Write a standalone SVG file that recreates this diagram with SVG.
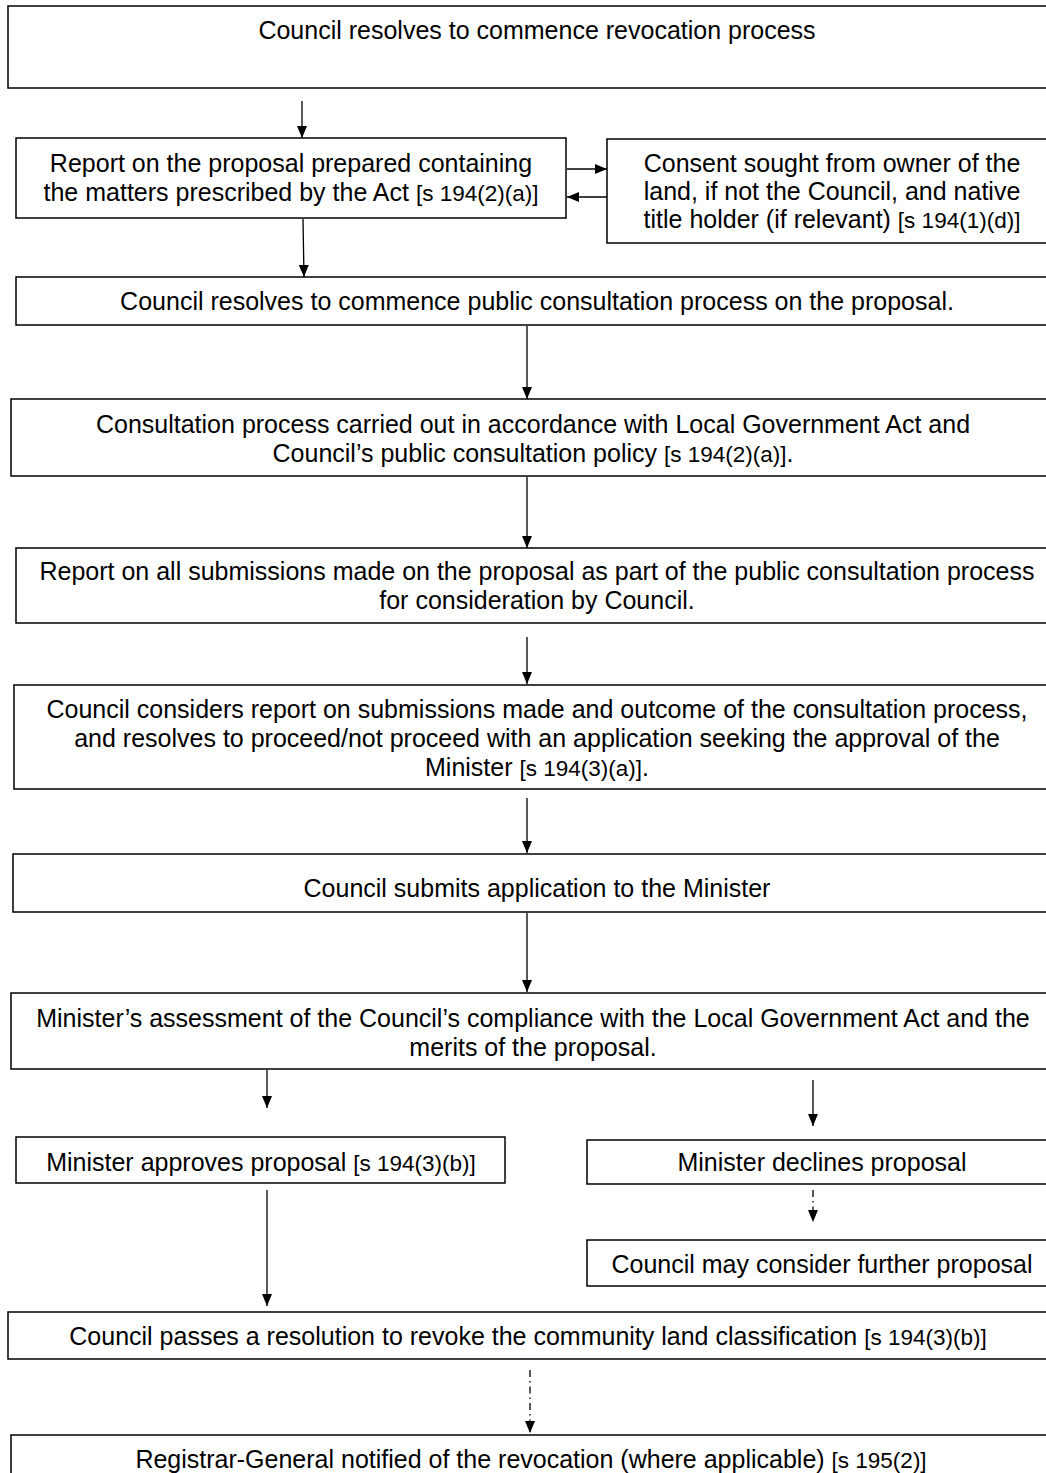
<svg xmlns="http://www.w3.org/2000/svg" width="1046" height="1473" viewBox="0 0 1046 1473">
<style>
.box{fill:#fff;stroke:#000;stroke-width:1.5}
.t{font-family:"Liberation Sans",Arial,sans-serif;font-size:25px;fill:#000;text-anchor:middle}
.s{font-size:22.5px}
.c{stroke:#000;stroke-width:1.3;fill:none}
.d{stroke-dasharray:7,4,1.5,4}
</style>
<defs>
<marker id="ah" viewBox="0 0 12 10" refX="12" refY="5" markerWidth="12" markerHeight="10" markerUnits="userSpaceOnUse" orient="auto">
<path d="M0,0 L12,5 L0,10 Z" fill="#000"/>
</marker>
</defs>
<rect width="1046" height="1473" fill="#fff"/>
<g id="n1"><rect class="box" x="8" y="6" width="1050" height="82"/>
<text class="t" x="537" y="39">Council resolves to commence revocation process</text></g>
<g id="n2"><rect class="box" x="16" y="138" width="550" height="80"/>
<text class="t" x="291" y="172">Report on the proposal prepared containing</text>
<text class="t" x="291" y="201">the matters prescribed by the Act <tspan class="s">[s 194(2)(a)]</tspan></text></g>
<g id="n3"><rect class="box" x="607" y="139" width="450" height="104"/>
<text class="t" x="832" y="172">Consent sought from owner of the</text>
<text class="t" x="832" y="200">land, if not the Council, and native</text>
<text class="t" x="832" y="228">title holder (if relevant) <tspan class="s">[s 194(1)(d)]</tspan></text></g>
<g id="n4"><rect class="box" x="16" y="277" width="1040" height="48"/>
<text class="t" x="537" y="310">Council resolves to commence public consultation process on the proposal.</text></g>
<g id="n5"><rect class="box" x="11" y="399" width="1045" height="77"/>
<text class="t" x="533" y="433">Consultation process carried out in accordance with Local Government Act and</text>
<text class="t" x="533" y="462">Council’s public consultation policy <tspan class="s">[s 194(2)(a)]</tspan>.</text></g>
<g id="n6"><rect class="box" x="16" y="548" width="1040" height="75"/>
<text class="t" x="537" y="580">Report on all submissions made on the proposal as part of the public consultation process</text>
<text class="t" x="537" y="609">for consideration by Council.</text></g>
<g id="n7"><rect class="box" x="14" y="685" width="1042" height="104"/>
<text class="t" x="537" y="718">Council considers report on submissions made and outcome of the consultation process,</text>
<text class="t" x="537" y="747">and resolves to proceed/not proceed with an application seeking the approval of the</text>
<text class="t" x="537" y="776">Minister <tspan class="s">[s 194(3)(a)]</tspan>.</text></g>
<g id="n8"><rect class="box" x="13" y="854" width="1043" height="58"/>
<text class="t" x="537" y="897">Council submits application to the Minister</text></g>
<g id="n9"><rect class="box" x="11" y="993" width="1045" height="76"/>
<text class="t" x="533" y="1027">Minister’s assessment of the Council’s compliance with the Local Government Act and the</text>
<text class="t" x="533" y="1056">merits of the proposal.</text></g>
<g id="n10"><rect class="box" x="16" y="1137" width="489" height="46"/>
<text class="t" x="261" y="1171">Minister approves proposal <tspan class="s">[s 194(3)(b)]</tspan></text></g>
<g id="n11"><rect class="box" x="587" y="1140" width="470" height="44"/>
<text class="t" x="822" y="1171">Minister declines proposal</text></g>
<g id="n12"><rect class="box" x="587" y="1240" width="470" height="46"/>
<text class="t" x="822" y="1273">Council may consider further proposal</text></g>
<g id="n13"><rect class="box" x="8" y="1312" width="1050" height="47"/>
<text class="t" x="528" y="1345">Council passes a resolution to revoke the community land classification <tspan class="s">[s 194(3)(b)]</tspan></text></g>
<g id="n14"><rect class="box" x="11" y="1435" width="1045" height="60"/>
<text class="t" x="531" y="1468">Registrar-General notified of the revocation (where applicable) <tspan class="s">[s 195(2)]</tspan></text></g>
<g id="connectors">
<line class="c" x1="302" y1="101" x2="302" y2="138" marker-end="url(#ah)"/>
<line class="c" x1="567" y1="169" x2="607" y2="169" marker-end="url(#ah)"/>
<line class="c" x1="607" y1="197" x2="567" y2="197" marker-end="url(#ah)"/>
<line class="c" x1="303" y1="219" x2="304" y2="277" marker-end="url(#ah)"/>
<line class="c" x1="527" y1="326" x2="527" y2="399" marker-end="url(#ah)"/>
<line class="c" x1="527" y1="477" x2="527" y2="548" marker-end="url(#ah)"/>
<line class="c" x1="527" y1="637" x2="527" y2="684" marker-end="url(#ah)"/>
<line class="c" x1="527" y1="798" x2="527" y2="853" marker-end="url(#ah)"/>
<line class="c" x1="527" y1="913" x2="527" y2="992" marker-end="url(#ah)"/>
<line class="c" x1="267" y1="1070" x2="267" y2="1108" marker-end="url(#ah)"/>
<line class="c" x1="813" y1="1080" x2="813" y2="1126" marker-end="url(#ah)"/>
<line class="c d" x1="813" y1="1190" x2="813" y2="1222" marker-end="url(#ah)"/>
<line class="c" x1="267" y1="1190" x2="267" y2="1306" marker-end="url(#ah)"/>
<line class="c d" x1="530" y1="1370" x2="530" y2="1433" marker-end="url(#ah)"/>
</g>
</svg>
